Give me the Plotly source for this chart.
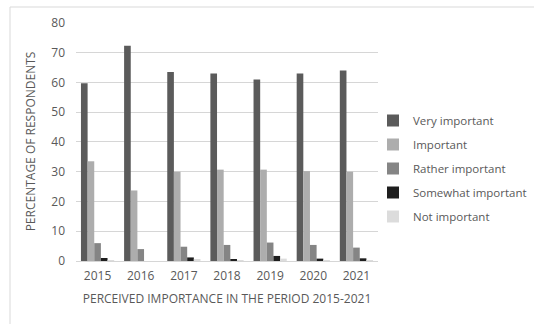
import plotly.graph_objects as go

years = ["2015", "2016", "2017", "2018", "2019", "2020", "2021"]
very_important = [59.7, 72.3, 63.5, 63.0, 61.0, 63.0, 64.0]
important = [33.5, 23.7, 30.0, 30.7, 30.7, 30.2, 30.0]
rather_important = [6.0, 4.0, 4.8, 5.4, 6.2, 5.4, 4.5]
somewhat_important = [1.0, 0.0, 1.2, 0.6, 1.7, 0.8, 0.9]
not_important = [0.2, 0.0, 0.6, 0.3, 0.8, 0.3, 0.3]

series = [
    ("Very important", very_important, "#5b5b5b"),
    ("Important", important, "#adadad"),
    ("Rather important", rather_important, "#858585"),
    ("Somewhat important", somewhat_important, "#1e1e1e"),
    ("Not important", not_important, "#dcdcdc"),
]

W, H = 534, 324
L, R, T, B = 76, 378, 22, 261

fig = go.Figure()
for i, (name, vals, col) in enumerate(series):
    fig.add_trace(go.Bar(x=years, y=vals, name=name, marker=dict(color=col, line=dict(width=0)),
                         legendgroup=f"g{i}"))

font = "Open Sans, Liberation Sans, sans-serif"
fig.update_layout(
    width=W, height=H,
    margin=dict(l=L, r=W - R, t=T, b=H - B, pad=0, autoexpand=False),
    paper_bgcolor="white", plot_bgcolor="white",
    barmode="group", bargap=0.23, bargroupgap=0,
    font=dict(family=font, color="#595959", size=12),
    legend=dict(x=(373 - L) / (R - L), xanchor="left", y=(261 - 106) / (B - T), yanchor="top",
                font=dict(size=11.5, color="#595959"), tracegroupgap=5, bgcolor="rgba(0,0,0,0)",
                itemclick=False),
    showlegend=True,
)
fig.update_xaxes(type="category", showline=False, showgrid=False, ticks="", ticklabelstandoff=6,
                 tickfont=dict(size=12, color="#595959"),
                 title=dict(text="PERCEIVED IMPORTANCE IN THE PERIOD 2015-2021", standoff=11,
                            font=dict(size=12, color="#595959")))
fig.update_yaxes(range=[0, 80.3], dtick=10, showgrid=True, gridcolor="#d6d6d6", gridwidth=1,
                 showline=False, zeroline=True, zerolinecolor="#d6d6d6", zerolinewidth=1,
                 ticks="", ticklabelstandoff=10, tickfont=dict(size=12, color="#595959"),
                 title=dict(text="PERCENTAGE OF RESPONDENTS", standoff=13,
                            font=dict(size=12, color="#595959")))

# outer chart border (light gray) at top and left
px = lambda x: (x - L) / (R - L)
py = lambda y: (B - y) / (B - T)
fig.add_shape(type="rect", xref="paper", yref="paper",
              x0=px(10), x1=px(W + 5), y0=py(H + 5), y1=py(7),
              line=dict(color="#d9d9d9", width=1), fillcolor="rgba(0,0,0,0)", layer="below")

fig.write_html("out.html")
